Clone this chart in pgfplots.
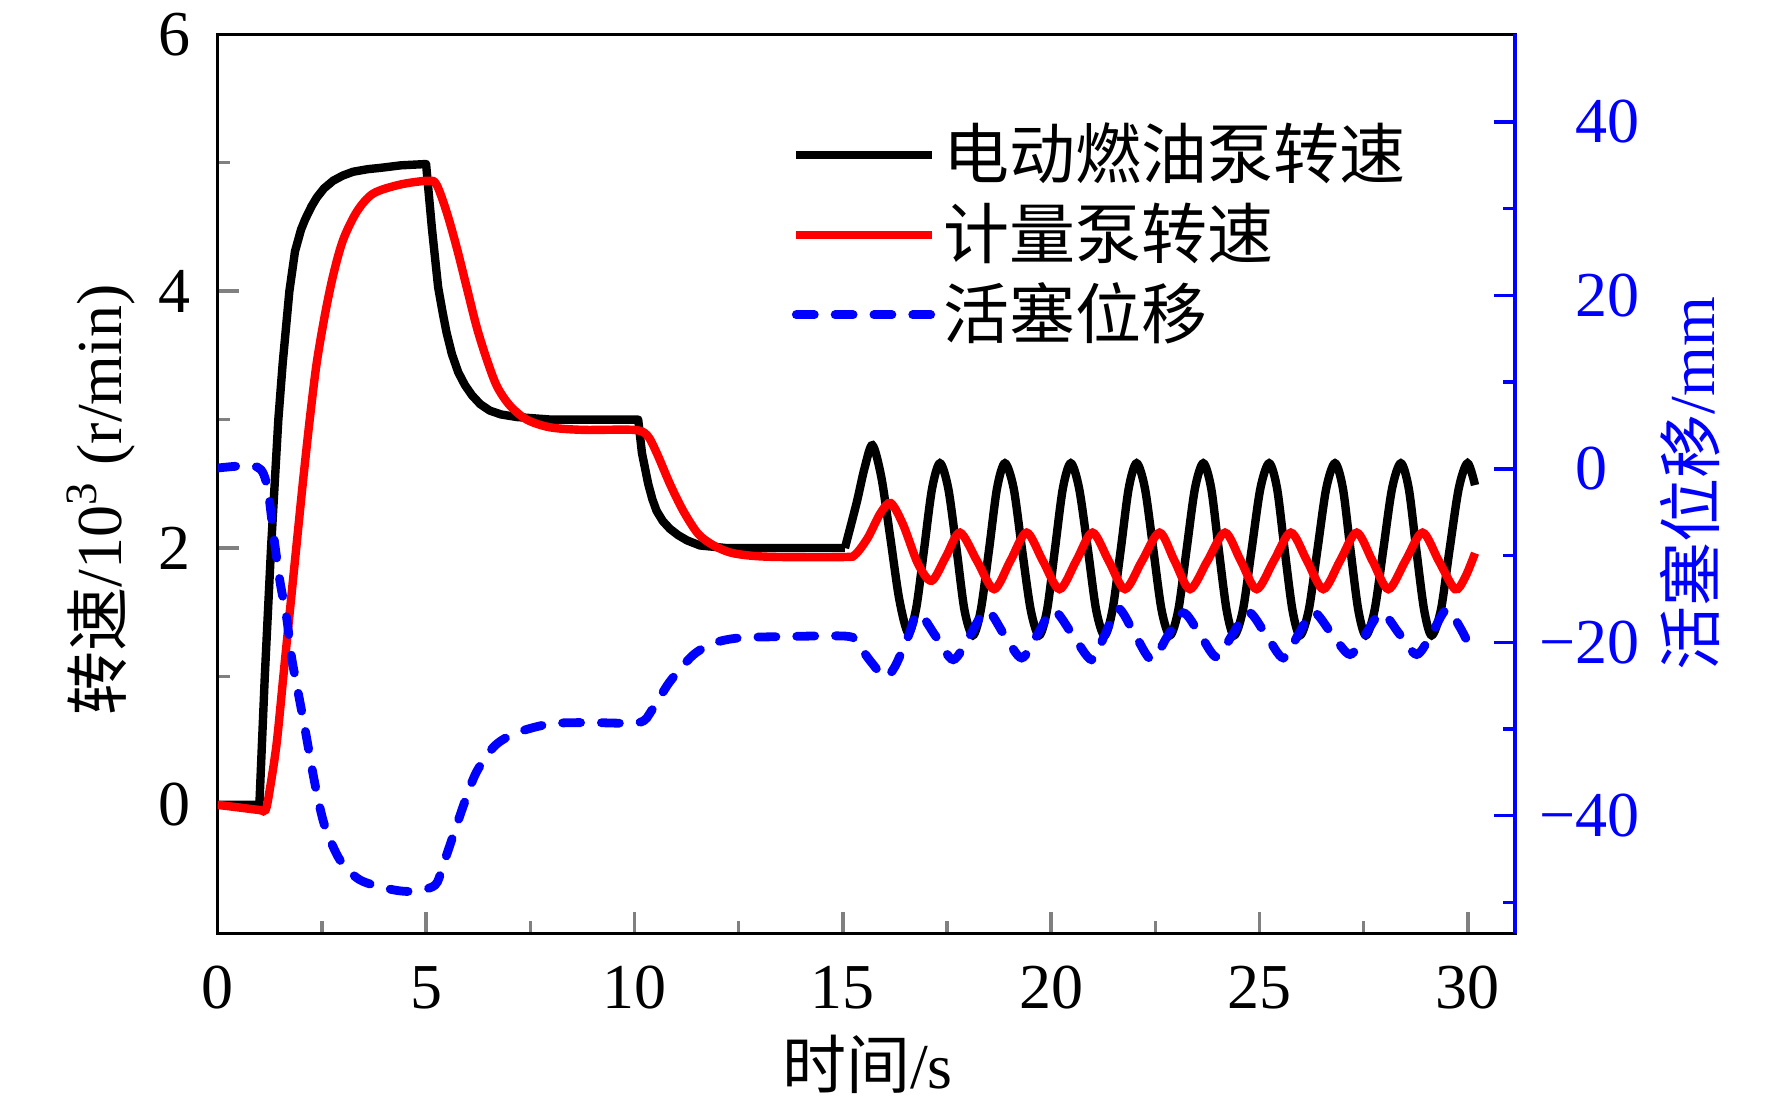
\documentclass[border=0pt]{standalone}
\usepackage{fontspec}
\setmainfont{Liberation Serif}
\newfontfamily\cjk{Noto Sans CJK SC}
\usepackage{pgfplots}
\pgfplotsset{compat=1.18}
\pgfplotsset{
  common/.style={
    scale only axis, width=324.325pt, height=224.75pt,
    xmin=0, xmax=31.13,
    tick align=inside,
    major tick length=5.3pt, minor tick length=3pt,
    tick style={line width=0.85pt},
    axis line style={line width=0.85pt},
    /pgf/number format/assume math mode=true,
    tick label style={font=\fontsize{16}{19}\selectfont},
    label style={font=\fontsize{16}{19}\selectfont},
  }
}
\begin{document}
\fontsize{16}{19}\selectfont
\begin{tikzpicture}
\path[use as bounding box] (-54.425pt,-44.925pt) rectangle (388.575pt,233.325pt);
\begin{axis}[common,
  ymin=-1, ymax=6, ytick={0,2,4,6}, minor ytick={1,3,5},
  xtick={0,5,...,30}, minor xtick={2.5,7.5,12.5,17.5,22.5,27.5},
  xtick pos=bottom, ytick pos=left,
  xticklabel style={yshift=-2.7pt},
  yticklabel style={xshift=-1.2pt},
  xlabel={{\cjk 时间}/s},
  xlabel style={at={(axis description cs:0.5009,-0.1721)}, anchor=base},
  ylabel={{\cjk 转速}/10\textsuperscript{3} (r/min)},
  ylabel style={at={(axis description cs:-0.0738,0.482)}, anchor=base},
  legend style={draw=none, fill=none, at={(axis description cs:0.442,0.9113)}, anchor=north west,
    inner sep=0pt, row sep=0pt, column sep=1.75pt,
    font=\cjk\fontsize{16.5}{19}\selectfont,
    nodes={inner sep=0pt, text height=16pt, text depth=4pt}},
  legend cell align=left,
  legend image code/.code={\draw[#1] (0pt,0pt) -- (34pt,0pt);},
]
\addplot[black, line width=2.1pt, line join=round] coordinates {
(0,0) (1.0,0) (1.13,1.0) (1.28,2.0) (1.455,3.0) (1.56,3.44) (1.72,4.0) (1.855,4.31)
(2.0,4.48) (2.1,4.56) (2.25,4.66) (2.38,4.73) (2.55,4.80) (2.77,4.86) (3.0,4.90)
(3.25,4.93) (3.6,4.95) (3.9,4.96) (4.4,4.98) (5.0,4.99)
(5.14,4.49) (5.29,4.03) (5.4,3.83) (5.49,3.68) (5.62,3.51) (5.77,3.37) (5.93,3.27)
(6.1,3.19) (6.3,3.12) (6.53,3.07) (6.8,3.04) (7.18,3.02) (8.0,3.0) (10.09,3.0)
(10.18,2.74) (10.33,2.50) (10.43,2.38) (10.53,2.29) (10.68,2.21) (10.85,2.15)
(11.05,2.10) (11.26,2.06) (11.57,2.02) (12.2,2.0) (15.05,2.0)
};
\addlegendentry{电动燃油泵转速}
\addplot[black, line width=2.1pt, smooth, forget plot] coordinates {
(15.05,2.0) (15.33,2.35) (15.52,2.62) (15.71,2.80)
(15.925,2.55) (16.14,2.08) (16.355,1.60) (16.57,1.34)
(16.76,1.53) (16.95,1.99) (17.14,2.46) (17.33,2.66)
(17.53,2.464) (17.73,1.99) (17.92,1.516) (18.12,1.32)
(18.31,1.516) (18.51,1.99) (18.70,2.464) (18.89,2.66)
(19.10,2.464) (19.30,1.99) (19.51,1.516) (19.71,1.32)
(19.90,1.516) (20.09,1.99) (20.28,2.464) (20.47,2.66)
(20.67,2.464) (20.88,1.99) (21.08,1.516) (21.28,1.32)
(21.47,1.516) (21.67,1.99) (21.86,2.464) (22.05,2.66)
(22.25,2.464) (22.45,1.99) (22.65,1.516) (22.85,1.32)
(23.05,1.516) (23.25,1.99) (23.45,2.464) (23.65,2.66)
(23.84,2.464) (24.02,1.99) (24.21,1.516) (24.39,1.32)
(24.60,1.516) (24.81,1.99) (25.02,2.464) (25.23,2.66)
(25.42,2.464) (25.60,1.99) (25.79,1.516) (25.97,1.32)
(26.18,1.516) (26.39,1.99) (26.60,2.464) (26.81,2.66)
(27.00,2.464) (27.18,1.99) (27.37,1.516) (27.55,1.32)
(27.76,1.516) (27.97,1.99) (28.18,2.464) (28.39,2.66)
(28.58,2.464) (28.76,1.99) (28.95,1.516) (29.13,1.32)
(29.35,1.516) (29.56,1.99) (29.78,2.464) (29.99,2.66) (30.17,2.49)
};
\addplot[red, line width=2.1pt, smooth] coordinates {
(0,0) (0.5,-0.02) (1.0,-0.04) (1.15,-0.04) (1.255,0.13) (1.415,0.48) (1.575,1.0)
(1.735,1.52) (1.9,2.05) (2.05,2.53) (2.215,3.02) (2.375,3.44) (2.575,3.82) (2.775,4.13)
(3.01,4.40) (3.34,4.62) (3.73,4.76) (4.375,4.83) (5.05,4.86) (5.25,4.83) (5.49,4.62)
(5.735,4.34) (5.975,4.03) (6.215,3.72) (6.455,3.47) (6.7,3.26) (7.01,3.11) (7.415,3.0)
(7.97,2.94) (8.77,2.92) (9.97,2.92) (10.3,2.88) (10.535,2.74) (10.85,2.50) (11.17,2.29)
(11.53,2.11) (11.9,2.02) (12.3,1.965) (12.8,1.94) (13.5,1.93) (15.05,1.93)
(15.3,1.95) (15.6,2.08) (15.9,2.27) (16.15,2.35) (16.45,2.18) (16.8,1.88) (17.13,1.745)
(17.47,1.93) (17.81,2.12) (18.22,1.90) (18.63,1.68) (19.02,1.90) (19.41,2.12)
(19.80,1.90) (20.20,1.68) (20.60,1.90) (20.99,2.12) (21.38,1.90) (21.77,1.68)
(22.18,1.90) (22.60,2.12) (22.96,1.90) (23.33,1.68) (23.75,1.90) (24.17,2.12)
(24.55,1.90) (24.93,1.68) (25.34,1.90) (25.75,2.12) (26.14,1.90) (26.53,1.68)
(26.93,1.90) (27.33,2.12) (27.71,1.90) (28.09,1.68) (28.50,1.90) (28.91,2.12)
(29.30,1.90) (29.69,1.68) (29.93,1.77) (30.17,1.96)
};
\addlegendentry{计量泵转速}
\addlegendimage{blue, line width=2.2pt, dash pattern=on 4.5pt off 5.2pt, line cap=round}
\addlegendentry{活塞位移}
\end{axis}
\begin{axis}[common,
  axis x line=none, axis y line*=right,
  ymin=-53.55, ymax=50.1,
  ytick={-40,-20,0,20,40}, yticklabels={\llap{−}40,\llap{−}20,0,20,40},
  minor ytick={-50,-30,-10,10,30},
  y axis line style={blue, line width=0.85pt, -},
  ytick style={blue, line width=0.85pt},
  yticklabel style={blue, anchor=west, inner sep=0pt, xshift=15pt},
  ylabel={{\cjk 活塞位移}/mm},
  ylabel style={blue, at={(axis description cs:1.1534,0.5)}, anchor=base},
]
\addplot[blue, line width=2.2pt, dash pattern=on 4.5pt off 5.2pt, line cap=round, smooth] coordinates {
(0,0.1) (0.6,0.35) (0.95,0.2) (1.1,-0.6) (1.215,-2.7) (1.335,-7.4) (1.495,-13.0)
(1.655,-17.2) (1.775,-21.8) (1.935,-25.9) (2.095,-30.0) (2.3,-35.5) (2.45,-39.0)
(2.6,-41.6) (2.935,-45.1) (3.415,-47.4) (4.175,-48.5) (4.7,-48.7) (5.215,-48.0)
(5.4,-45.8) (5.67,-42.0) (5.935,-38.3) (6.215,-34.9) (6.655,-31.9) (7.19,-30.4)
(7.99,-29.4) (8.89,-29.25) (10.1,-29.25) (10.415,-27.85) (10.84,-24.6) (11.4,-21.5)
(11.9,-20.1) (12.5,-19.5) (13.5,-19.35) (15.1,-19.3)
(15.35,-20.2) (15.7,-22.4) (16.01,-24.0) (16.25,-22.8) (16.57,-19.3) (16.81,-16.6)
(17.23,-19.3) (17.65,-22.0) (18.05,-19.2) (18.45,-16.3) (18.87,-19.1) (19.29,-21.8)
(19.67,-19.1) (20.05,-16.3) (20.51,-19.1) (20.97,-22.0) (21.29,-19.1) (21.61,-16.1)
(22.01,-19.1) (22.41,-22.0) (22.79,-19.3) (23.17,-16.6) (23.57,-19.1) (23.97,-21.7)
(24.35,-19.1) (24.73,-16.5) (25.15,-19.1) (25.57,-21.8) (25.93,-19.1) (26.29,-16.5)
(26.73,-19.0) (27.17,-21.4) (27.55,-19.0) (27.93,-16.6) (28.35,-19.0) (28.77,-21.4)
(29.13,-19.0) (29.49,-16.2) (29.8,-18.2) (30.09,-20.9)
};
\end{axis}
\end{tikzpicture}
\end{document}
